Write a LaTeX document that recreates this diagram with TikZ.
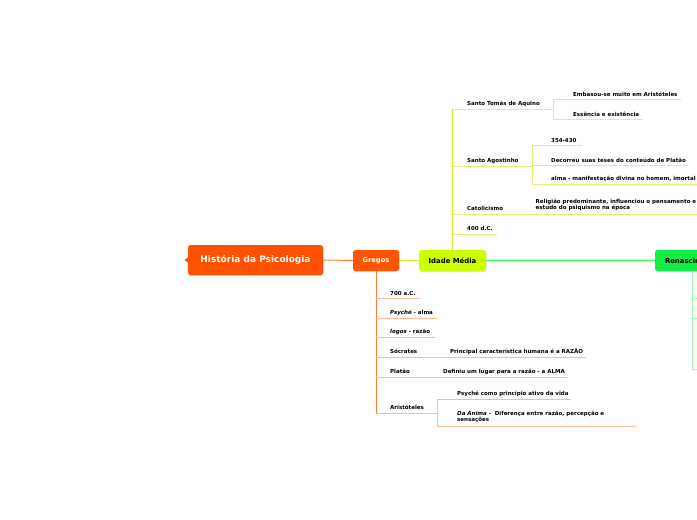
\documentclass[tikz,border=0pt]{standalone}
\usepackage{fontspec}
\setmainfont{DejaVu Sans}
\usetikzlibrary{shadows}
\definecolor{rootor}{HTML}{FF5100}
\definecolor{greor}{HTML}{FF5500}
\definecolor{orline}{HTML}{FF7A3C}
\definecolor{orlight}{HTML}{FFB999}
\definecolor{ylwfill}{HTML}{CCFF00}
\definecolor{ylwline}{HTML}{CCEE33}
\definecolor{ylwlight}{HTML}{DDF47A}
\definecolor{grnfill}{HTML}{11EE44}
\definecolor{grnline}{HTML}{33FF55}
\definecolor{grnlight}{HTML}{99FFAA}
\tikzset{
  lbl/.style={font=\fontsize{5.5}{6.4}\selectfont\bfseries, text=black, inner sep=0pt, anchor=west, align=left},
  mainbox/.style={rounded corners=2.5pt, inner sep=0pt, font=\bfseries, drop shadow={opacity=0.25, shadow xshift=0.6pt, shadow yshift=-1pt}},
  oline/.style={draw=orline, line width=1pt},
  olight/.style={draw=orlight, line width=0.8pt},
  yline/.style={draw=ylwline, line width=1pt},
  ylight/.style={draw=ylwlight, line width=0.8pt},
  gline/.style={draw=grnline, line width=1pt},
  glight/.style={draw=grnlight, line width=0.8pt}
}
\begin{document}
\begin{tikzpicture}[x=1pt,y=-1pt]
\useasboundingbox[fill=white] (0,0) rectangle (697,520);

% main nodes
\fill[rootor] (188.5,257) -- (184.5,260) -- (188.5,263) -- cycle;
\node[mainbox, fill=rootor, text=white, minimum width=135pt, minimum height=30pt, font=\fontsize{9}{10}\selectfont\bfseries] (root) at (255.5,260) {História da Psicologia};
\node[mainbox, fill=greor, text=white, minimum width=46pt, minimum height=21pt, font=\fontsize{6.7}{7.5}\selectfont\bfseries] (gre) at (376,260.5) {Gregos};
\node[mainbox, fill=ylwfill, text=black, minimum width=67pt, minimum height=21pt, font=\fontsize{6.9}{7.5}\selectfont\bfseries] (ida) at (452.5,260.5) {Idade Média};
\node[mainbox, fill=grnfill, text=black, minimum width=90pt, minimum height=21pt, text width=70pt, align=left, font=\fontsize{6.9}{7.5}\selectfont\bfseries] (ren) at (700,260.5) {Renascimento};

\draw[oline] (root.east) -- (gre.west);
\draw[yline] (gre.east) -- (ida.west);
\draw[gline] (ida.east) -- (ren.west);

% ---------- Idade Media ----------
\coordinate (iv) at (452.5,109);
\draw[yline] (ida.north) -- (iv);

\node[lbl] (tomas) at (467,104) {Santo Tomás de Aquino};
\draw[ylight] (452.5,109) -- (553,109);
\draw[ylight] (553,99) -- (553,119);
\node[lbl] (emb) at (573,94) {Embasou-se muito em Aristóteles};
\draw[ylight] (553,99) -- (681,99);
\node[lbl] (ess) at (573,114) {Essência e existência};
\draw[ylight] (553,119) -- (643,119);

\node[lbl] (ago) at (467,160.5) {Santo Agostinho};
\draw[ylight] (452.5,166) -- (532,166);
\draw[ylight] (532,145) -- (532,184);
\node[lbl] (dat) at (551,140) {354-430};
\draw[ylight] (532,145) -- (582,145);
\node[lbl] (dec) at (551,160) {Decorreu suas teses do conteúdo de Platão};
\draw[ylight] (532,165) -- (688,165);
\node[lbl] (alma) at (551,179) {alma - manifestação divina no homem, imortal};
\draw[ylight] (532,184) -- (700,184);

\node[lbl] (cat) at (467,208.5) {Catolicismo};
\node[lbl] (rel) at (535.5,205) {Religião predominante, influenciou o pensamento e\\estudo do psiquismo na época};
\draw[ylight] (452.5,214) -- (700,214);

\node[lbl] (d400) at (467,228.5) {400 d.C.};
\draw[ylight] (452.5,234) -- (497,234);

% ---------- Gregos ----------
\draw[oline] (gre.south) -- (376,413);

\node[lbl] (a700) at (390,293) {700 a.C.};
\draw[olight] (376,298) -- (420,298);
\node[lbl] (psy) at (390,312.5) {\itshape Psyché\/\upshape{} - alma};
\draw[olight] (376,318) -- (437,318);
\node[lbl] (log) at (390,332) {\itshape logos\/\upshape{} - razão};
\draw[olight] (376,337) -- (435,337);
\node[lbl] (soc) at (390,351.5) {Sócrates};
\node[lbl] (socd) at (450,351.5) {Principal característica humana é a RAZÃO};
\draw[olight] (376,357) -- (586,357);
\node[lbl] (pla) at (390,371.5) {Platão};
\node[lbl] (plad) at (443,371.5) {Definiu um lugar para a razão - a ALMA};
\draw[olight] (376,377) -- (568,377);
\node[lbl] (ari) at (390,407.5) {Aristóteles};
\draw[olight] (376,413) -- (437,413);
\draw[olight] (437,399) -- (437,426);
\node[lbl] (psyv) at (457,394) {Psyché como princípio ativo da vida};
\draw[olight] (437,399) -- (571,399);
\node[lbl] (anima) at (457,417) {\itshape Da Anima\/\upshape{} -\ \ Diferença entre razão, percepção e\\sensações};
\draw[olight] (437,426) -- (636,426);

% ---------- Renascimento ----------
\draw[glight] (692,271) -- (692,369);
\draw[glight] (692,298) -- (700,298);
\draw[glight] (692,318) -- (700,318);
\draw[glight] (692,369) -- (700,369);
\end{tikzpicture}
\end{document}
